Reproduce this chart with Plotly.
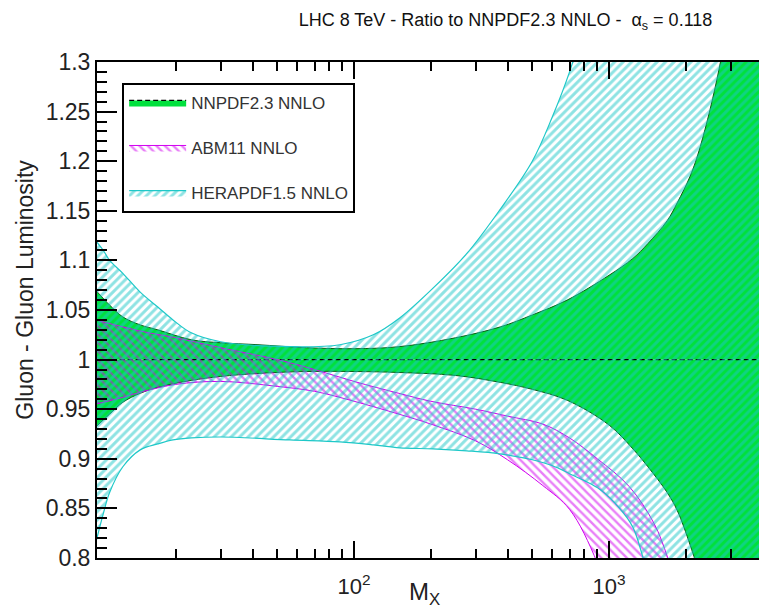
import plotly.graph_objects as go

# ---------------- data ----------------
green_m = [9.7, 11, 12.4, 14.5, 17, 23, 30, 42, 65, 100, 150, 250, 375, 500,
           685, 1000, 1240, 1420, 1690, 1850, 2080, 2280, 2735, 3900]
green_hi = [1.07, 1.055, 1.043, 1.035, 1.03, 1.02, 1.017, 1.015, 1.012, 1.011,
            1.013, 1.022, 1.033, 1.045, 1.06, 1.085, 1.102, 1.117, 1.14, 1.158,
            1.185, 1.215, 1.30, 1.55]
green_lo = [0.932, 0.945, 0.957, 0.966, 0.972, 0.979, 0.983, 0.986, 0.988, 0.988,
            0.987, 0.984, 0.977, 0.97, 0.959, 0.934, 0.91, 0.892, 0.866, 0.848,
            0.813, 0.78, 0.70, 0.5]
green_mid = [1.0] * len(green_m)  # NNPDF central value: ratio to itself

abm_m = [9.7, 12.4, 15, 20, 30, 50, 70, 100, 150, 200, 300, 400, 550, 700, 900,
         1200, 1500, 1700, 2000]
abm_hi = [1.04, 1.033, 1.028, 1.022, 1.012, 1.0, 0.99, 0.978, 0.966, 0.958, 0.95,
          0.943, 0.935, 0.921, 0.9, 0.872, 0.835, 0.8, 0.74]
abm_lo = [0.955, 0.962, 0.968, 0.975, 0.978, 0.973, 0.968, 0.958, 0.945, 0.935,
          0.918, 0.899, 0.873, 0.849, 0.795, 0.7, 0.6, 0.55, 0.5]

hera_m = [9.7, 10.4, 11, 12.4, 14.5, 17, 19.5, 23, 30, 56, 88, 119, 151, 204, 277,
          373, 500, 600, 700, 800, 922, 1100, 1240, 1360, 1500, 2000, 3900]
hera_hi = [1.12, 1.11, 1.10, 1.087, 1.068, 1.053, 1.04, 1.027, 1.018, 1.013, 1.015,
           1.025, 1.042, 1.072, 1.107, 1.151, 1.2, 1.245, 1.29, 1.34, 1.4, 1.5, 1.6,
           1.7, 1.8, 2.1, 3.0]
hera_lo = [0.815, 0.845, 0.866, 0.892, 0.909, 0.915, 0.919, 0.921, 0.922, 0.919,
           0.917, 0.914, 0.911, 0.91, 0.908, 0.905, 0.899, 0.893, 0.885, 0.878,
           0.869, 0.85, 0.831, 0.8, 0.76, 0.6, 0.3]

y_ticks = [0.8, 0.85, 0.9, 0.95, 1.0, 1.05, 1.1, 1.15, 1.2, 1.25, 1.3]
y_ticktext = ["0.8", "0.85", "0.9", "0.95", "1", "1.05", "1.1", "1.15", "1.2", "1.25", "1.3"]
x_ticks = [100, 1000]
x_ticktext = ["10<sup>2</sup>", "10<sup>3</sup>"]

GREEN = "#00e03c"
DKGREEN = "#0a5a14"
MAGENTA = "#d200f0"
CYAN = "#1ec8c8"
FONT = "Liberation Sans, Arial, sans-serif"
SM = 1.0

fig = go.Figure()

# NNPDF band (solid green)
fig.add_trace(go.Scatter(x=green_m, y=green_lo, mode="lines",
                         line=dict(color=DKGREEN, width=1, shape="spline", smoothing=SM),
                         showlegend=False, legendgroup="nn", hoverinfo="skip"))
fig.add_trace(go.Scatter(x=green_m, y=green_mid, mode="lines", name="NNPDF2.3 NNLO",
                         fill="tonexty", fillcolor=GREEN,
                         line=dict(color="black", width=1.2, dash="5px,3px"),
                         legendgroup="nn"))
fig.add_trace(go.Scatter(x=green_m, y=green_hi, mode="lines", fill="tonexty",
                         fillcolor=GREEN,
                         line=dict(color=DKGREEN, width=1, shape="spline", smoothing=SM),
                         showlegend=False, legendgroup="nn", hoverinfo="skip"))

# ABM11 band (magenta hatch)
fig.add_trace(go.Scatter(x=abm_m, y=abm_lo, mode="lines",
                         line=dict(color=MAGENTA, width=1, shape="spline", smoothing=SM),
                         showlegend=False, legendgroup="abm", hoverinfo="skip"))
fig.add_trace(go.Scatter(x=abm_m, y=abm_hi, mode="lines", name="ABM11 NNLO",
                         fill="tonexty", fillcolor="rgba(0,0,0,0)",
                         fillpattern=dict(shape="\\", fgcolor=MAGENTA,
                                          bgcolor="rgba(0,0,0,0)", size=6, solidity=0.4),
                         line=dict(color=MAGENTA, width=1, shape="spline", smoothing=SM),
                         legendgroup="abm"))

# HERAPDF band (cyan hatch)
fig.add_trace(go.Scatter(x=hera_m, y=hera_lo, mode="lines",
                         line=dict(color=CYAN, width=1.2, shape="spline", smoothing=SM),
                         showlegend=False, legendgroup="hera", hoverinfo="skip"))
fig.add_trace(go.Scatter(x=hera_m, y=hera_hi, mode="lines", name="HERAPDF1.5 NNLO",
                         fill="tonexty", fillcolor="rgba(0,0,0,0)",
                         fillpattern=dict(shape="/", fgcolor=CYAN,
                                          bgcolor="rgba(0,0,0,0)", size=6, solidity=0.5),
                         line=dict(color=CYAN, width=1.2, shape="spline", smoothing=SM),
                         legendgroup="hera"))

minor_x = [k * 10 ** e for e in (1, 2, 3) for k in range(2, 10)]

fig.update_layout(
    width=759, height=611,
    margin=dict(l=97, r=0, t=62, b=53),
    paper_bgcolor="white", plot_bgcolor="white",
    font=dict(family=FONT, color="#222"),
    title=dict(text="LHC 8 TeV - Ratio to NNPDF2.3 NNLO -  α<sub>s</sub> = 0.118",
               x=0.666, xanchor="center", y=0.968, yanchor="middle",
               font=dict(family="Liberation Sans Narrow, Arial Narrow, Liberation Sans, sans-serif",
                         size=18, color="#111")),
    legend=dict(x=0.038, y=0.958, xanchor="left", yanchor="top",
                bgcolor="white", bordercolor="black", borderwidth=2,
                font=dict(family=FONT, size=17, color="#333"),
                itemwidth=57, tracegroupgap=20,
                traceorder="grouped"),
    xaxis=dict(type="log", range=[0.992, 3.588],
               tickmode="array", tickvals=x_ticks, ticktext=x_ticktext,
               ticks="inside", ticklen=17, tickwidth=1.5, tickcolor="black",
               showline=True, linecolor="black", linewidth=2, mirror="ticks",
               showgrid=False, zeroline=False,
               tickfont=dict(family=FONT, size=22, color="#222"),
               ticklabelstandoff=8,
               minor=dict(tickmode="array", tickvals=minor_x, ticks="inside",
                          ticklen=9, tickwidth=1.5, tickcolor="black", showgrid=False)),
    yaxis=dict(range=[0.8, 1.3],
               tickmode="array", tickvals=y_ticks, ticktext=y_ticktext,
               ticks="inside", ticklen=20, tickwidth=1.5, tickcolor="black",
               showline=True, linecolor="black", linewidth=2, mirror=False,
               showgrid=False, zeroline=False,
               tickfont=dict(family=FONT, size=23, color="#222"),
               minor=dict(tickmode="linear", tick0=0.8, dtick=0.01, ticks="inside",
                          ticklen=10, tickwidth=1.5, tickcolor="black", showgrid=False)),
    annotations=[
        dict(text="Gluon - Gluon Luminosity", textangle=-90, xref="paper", yref="paper",
             x=-0.108, y=0.54, xanchor="center", yanchor="middle", showarrow=False,
             font=dict(family=FONT, size=23, color="#222")),
        dict(text="M<sub>X</sub>", xref="paper", yref="paper",
             x=0.495, y=-0.072, xanchor="center", yanchor="middle", showarrow=False,
             font=dict(family=FONT, size=24, color="#222")),
    ],
)

fig.write_html("out.html")
